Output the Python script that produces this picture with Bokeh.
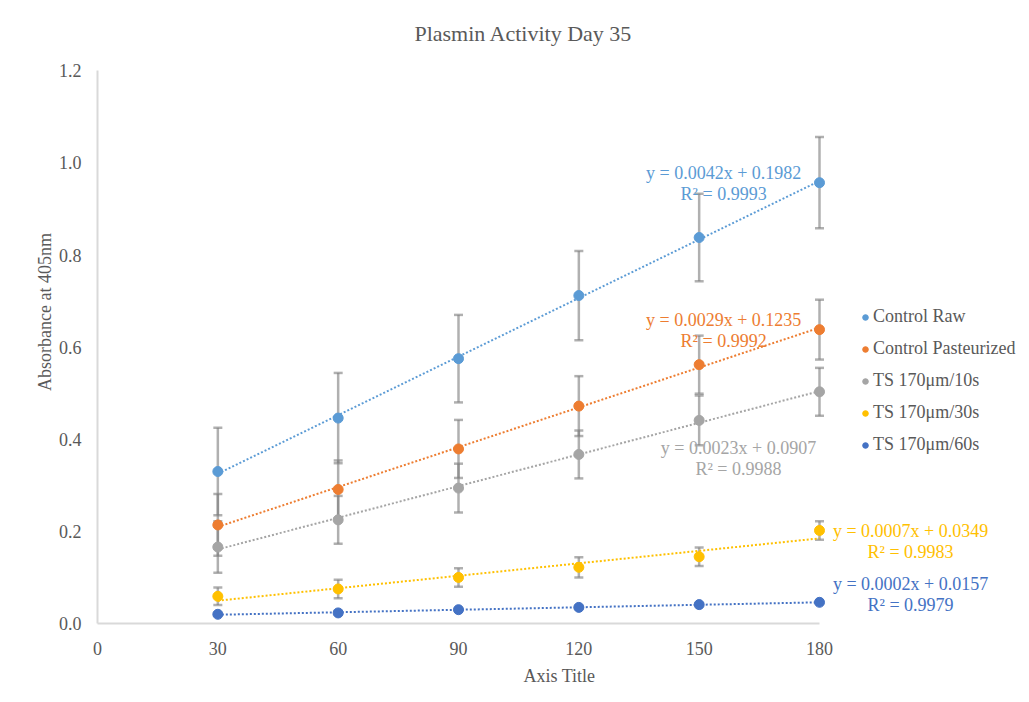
import numpy as np
from bokeh.plotting import figure
from bokeh.models import (ColumnDataSource, Whisker, TeeHead, Label, Legend, LegendItem,
                          Range1d, FixedTicker, NumeralTickFormatter)
from bokeh.embed import file_html
from bokeh.resources import INLINE

# ---- data ----
x_days = [30, 60, 90, 120, 150, 180]
series_names = ["Control Raw", "Control Pasteurized", "TS 170μm/10s", "TS 170μm/30s", "TS 170μm/60s"]
control_raw = [0.330, 0.446, 0.575, 0.712, 0.838, 0.957]
control_past = [0.214, 0.291, 0.379, 0.472, 0.562, 0.638]
ts_10s = [0.166, 0.225, 0.294, 0.367, 0.441, 0.503]
ts_30s = [0.059, 0.075, 0.100, 0.122, 0.145, 0.202]
ts_60s = [0.020, 0.023, 0.030, 0.035, 0.041, 0.046]
err_raw = [0.095, 0.098, 0.095, 0.097, 0.095, 0.099]
err_past = [0.067, 0.063, 0.063, 0.065, 0.063, 0.065]
err_10s = [0.056, 0.052, 0.053, 0.052, 0.054, 0.052]
err_30s = [0.019, 0.020, 0.020, 0.022, 0.020, 0.020]
err_60s = [0.003, 0.003, 0.003, 0.003, 0.003, 0.003]
trend_slopes = [0.0042, 0.0029, 0.0023, 0.0007, 0.0002]
trend_intercepts = [0.1982, 0.1235, 0.0907, 0.0349, 0.0157]
trend_r2 = ["0.9993", "0.9992", "0.9988", "0.9983", "0.9979"]
y_ticks = [0.0, 0.2, 0.4, 0.6, 0.8, 1.0, 1.2]
x_ticks = [0, 30, 60, 90, 120, 150, 180]

# ---- styles / positions ----
colors = ["#5B9BD5", "#ED7D31", "#A5A5A5", "#FFC000", "#4472C4"]
eq_pos = [(156.1, 0.979), (156.1, 0.659), (159.8, 0.382), (202.7, 0.201), (202.7, 0.0855)]
line_gap = 0.046
FONT = "Liberation Serif"
TXT = "#595959"

values = [control_raw, control_past, ts_10s, ts_30s, ts_60s]
errors = [err_raw, err_past, err_10s, err_30s, err_60s]

p = figure(width=1021, height=694, frame_width=924, frame_height=623,
           min_border_left=97, min_border_right=0, min_border_top=0, min_border_bottom=71,
           x_range=Range1d(0, 230.36), y_range=Range1d(0, 1.3526),
           output_backend="svg", toolbar_location=None)
p.outline_line_color = None
p.xgrid.visible = False
p.ygrid.visible = False

for ax in (p.xaxis[0], p.yaxis[0]):
    ax.axis_line_color = "#d9d9d9"
    ax.axis_line_width = 2
    ax.major_tick_line_color = None
    ax.minor_tick_line_color = None
    ax.major_tick_out = 0
    ax.major_tick_in = 0
    ax.major_label_text_font = FONT
    ax.major_label_text_font_size = "18px"
    ax.major_label_text_color = TXT
    ax.axis_label_text_font = FONT
    ax.axis_label_text_font_size = "18px"
    ax.axis_label_text_font_style = "normal"
    ax.axis_label_text_color = TXT

p.xaxis.bounds = (0, 180)
p.yaxis.bounds = (0, 1.2)
p.xaxis.ticker = FixedTicker(ticks=x_ticks)
p.yaxis.ticker = FixedTicker(ticks=y_ticks)
p.yaxis.formatter = NumeralTickFormatter(format="0.0")
p.xaxis.axis_label = "Axis Title"
p.yaxis.axis_label = "Absorbance at 405nm"
p.xaxis.major_label_standoff = 18
p.yaxis.major_label_standoff = 16
p.xaxis.axis_label_standoff = 8
p.yaxis.axis_label_standoff = 1

items = []
for i in range(5):
    vals = values[i]
    errs = errors[i]
    src = ColumnDataSource(dict(x=x_days, y=vals,
                                upper=[v + e for v, e in zip(vals, errs)],
                                lower=[v - e for v, e in zip(vals, errs)]))
    w = Whisker(base="x", upper="upper", lower="lower", source=src,
                line_color="#7f7f7f", line_alpha=0.62, line_width=2.5,
                upper_head=TeeHead(size=9, line_color="#7f7f7f", line_alpha=0.62, line_width=2.5),
                lower_head=TeeHead(size=9, line_color="#7f7f7f", line_alpha=0.62, line_width=2.5),
                level="underlay")
    p.add_layout(w)
    # linear trendline: least-squares fit of the plotted points
    slope, intercept = np.polyfit(x_days, vals, 1)
    tx = [x_days[0], x_days[-1]]
    ty = [slope * t + intercept for t in tx]
    p.line(tx, ty, line_color=colors[i], line_width=2, line_dash="2 2")
    r = p.scatter("x", "y", source=src, size=10, marker="circle",
                  fill_color=colors[i], line_color=colors[i])
    items.append(LegendItem(label=series_names[i], renderers=[r]))

    ex, ey = eq_pos[i]
    eq1 = "y = %.4fx + %.4f" % (trend_slopes[i], trend_intercepts[i])
    eq2 = "R² = " + trend_r2[i]
    for k, t in enumerate([eq1, eq2]):
        p.add_layout(Label(x=ex, y=ey - k * line_gap, text=t, text_align="center",
                           text_baseline="middle", text_font=FONT, text_font_size="18px",
                           text_color=colors[i]))

legend = Legend(items=items, location=(761, 168), glyph_width=14, glyph_height=20,
                label_height=20, spacing=12, label_standoff=1, padding=0, margin=0,
                border_line_color=None, background_fill_alpha=0,
                label_text_font=FONT, label_text_font_size="18px", label_text_color=TXT)
legend.spacing = 11
p.add_layout(legend)

p.add_layout(Label(x=426, y=590, x_units="screen", y_units="screen",
                   text="Plasmin Activity Day 35", text_align="center", text_baseline="middle",
                   text_font=FONT, text_font_size="22px", text_color=TXT))

open("out.html", "w").write(file_html(p, INLINE))
